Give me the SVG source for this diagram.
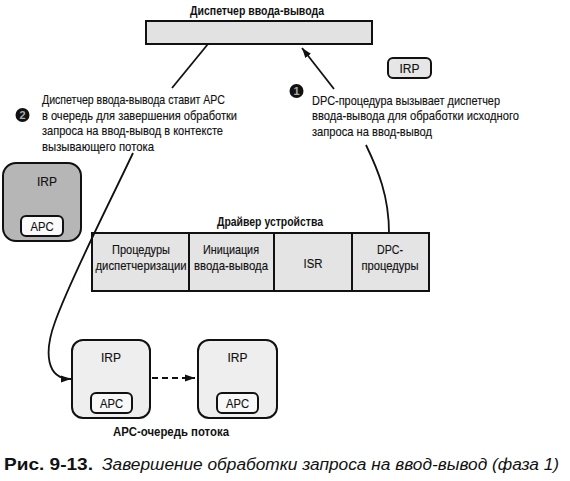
<svg xmlns="http://www.w3.org/2000/svg" width="570" height="481" viewBox="0 0 570 481">
<defs>
<marker id="ah" markerUnits="userSpaceOnUse" markerWidth="11" markerHeight="8" refX="10" refY="4" orient="auto">
<path d="M0,0.5 L10,4 L0,7.5 Z" fill="#111"/>
</marker>
</defs>
<style>
text{font-family:"Liberation Sans",Arial,sans-serif;fill:#111}
.t{font-size:13px;stroke:#111;stroke-width:0.15}
.b{font-size:13px;font-weight:bold}
.lbl{font-size:13px;text-anchor:middle;stroke:#111;stroke-width:0.15}
.box{stroke:#111;stroke-width:2}
.ln{fill:none;stroke:#111;stroke-width:1.8}
.num{font-size:11px;font-weight:bold;fill:#aaa;text-anchor:middle}
</style>
<rect width="570" height="481" fill="#fff"/>

<g id="io-manager">
<text class="b" x="257" y="14.5" text-anchor="middle" textLength="134" lengthAdjust="spacingAndGlyphs">Диспетчер ввода-вывода</text>
<rect class="box" x="146" y="21" width="226" height="23" fill="#e2e2e2"/>
</g>

<g id="irp-small">
<rect class="box" x="388" y="58" width="43" height="20" rx="5" fill="#e6e6e6"/>
<text class="lbl" x="409.5" y="72.5" textLength="20" lengthAdjust="spacingAndGlyphs">IRP</text>
</g>

<g id="note1">
<circle cx="296.5" cy="91" r="7" fill="#111"/>
<text class="num" x="296.5" y="95">1</text>
<text class="t" x="312" y="104.5" textLength="188" lengthAdjust="spacingAndGlyphs">DPC-процедура вызывает диспетчер</text>
<text class="t" x="312" y="120" textLength="207" lengthAdjust="spacingAndGlyphs">ввода-вывода для обработки исходного</text>
<text class="t" x="312" y="135.5" textLength="120" lengthAdjust="spacingAndGlyphs">запроса на ввод-вывод</text>
</g>

<g id="note2">
<circle cx="22.5" cy="115" r="7" fill="#111"/>
<text class="num" x="22.5" y="119">2</text>
<text class="t" x="42" y="103.5" textLength="183" lengthAdjust="spacingAndGlyphs">Диспетчер ввода-вывода ставит APC</text>
<text class="t" x="42" y="119.5" textLength="195" lengthAdjust="spacingAndGlyphs">в очередь для завершения обработки</text>
<text class="t" x="42" y="135" textLength="181" lengthAdjust="spacingAndGlyphs">запроса на ввод-вывод в контексте</text>
<text class="t" x="42" y="150.5" textLength="112" lengthAdjust="spacingAndGlyphs">вызывающего потока</text>
</g>

<g id="irp-apc-left">
<rect class="box" x="3" y="163" width="78" height="78" rx="13" fill="#b6b6b6"/>
<text class="lbl" x="47" y="186" textLength="20" lengthAdjust="spacingAndGlyphs">IRP</text>
<rect class="box" x="21" y="216" width="42" height="20" rx="5" fill="#fafafa"/>
<text class="lbl" x="42" y="231" textLength="23" lengthAdjust="spacingAndGlyphs">APC</text>
</g>

<g id="device-driver">
<text class="b" x="270" y="226" text-anchor="middle" textLength="106" lengthAdjust="spacingAndGlyphs">Драйвер устройства</text>
<rect class="box" x="92" y="233" width="337" height="58" fill="#e4e4e4"/>
<line class="box" x1="189" y1="233" x2="189" y2="291"/>
<line class="box" x1="274" y1="233" x2="274" y2="291"/>
<line class="box" x1="352" y1="233" x2="352" y2="291"/>
<text class="lbl" x="141" y="253.5" textLength="58" lengthAdjust="spacingAndGlyphs">Процедуры</text>
<text class="lbl" x="141" y="269.5" textLength="91" lengthAdjust="spacingAndGlyphs">диспетчеризации</text>
<text class="lbl" x="231" y="253.5" textLength="56" lengthAdjust="spacingAndGlyphs">Инициация</text>
<text class="lbl" x="231" y="269.5" textLength="74" lengthAdjust="spacingAndGlyphs">ввода-вывода</text>
<text class="lbl" x="313" y="268" textLength="19" lengthAdjust="spacingAndGlyphs">ISR</text>
<text class="lbl" x="390" y="253.5" textLength="26" lengthAdjust="spacingAndGlyphs">DPC-</text>
<text class="lbl" x="390" y="269.5" textLength="57" lengthAdjust="spacingAndGlyphs">процедуры</text>
</g>

<g id="irp-queue-1">
<rect class="box" x="72" y="340" width="78" height="78" rx="11" fill="#eeeeee"/>
<text class="lbl" x="111" y="361.5" textLength="20" lengthAdjust="spacingAndGlyphs">IRP</text>
<rect class="box" x="91" y="393" width="41" height="20" rx="5" fill="#f8f8f8"/>
<text class="lbl" x="111.5" y="408" textLength="23" lengthAdjust="spacingAndGlyphs">APC</text>
</g>

<g id="irp-queue-2">
<rect class="box" x="198" y="340" width="79" height="78" rx="11" fill="#eeeeee"/>
<text class="lbl" x="237.5" y="361.5" textLength="20" lengthAdjust="spacingAndGlyphs">IRP</text>
<rect class="box" x="217" y="393" width="41" height="20" rx="5" fill="#f8f8f8"/>
<text class="lbl" x="237.5" y="408" textLength="23" lengthAdjust="spacingAndGlyphs">APC</text>
</g>

<g id="queue-label">
<text class="b" x="171" y="436" text-anchor="middle" textLength="116" lengthAdjust="spacingAndGlyphs">APC-очередь потока</text>
</g>

<g id="connectors">
<path class="ln" d="M389,233 C389,196 378,170 366,145"/>
<path class="ln" d="M334,89 L302,48" marker-end="url(#ah)"/>
<path class="ln" d="M208,44 L172,88"/>
<path class="ln" d="M133,153 C105,212 70,280 55,322 C44,352 46,379 71,379" marker-end="url(#ah)"/>
<path class="ln" d="M152,378 L195,378" stroke-dasharray="6,4" marker-end="url(#ah)"/>
</g>

<g id="caption">
<text x="4" y="470" style="font-size:16.5px;font-weight:bold" textLength="89" lengthAdjust="spacingAndGlyphs">Рис. 9-13.</text>
<text x="102" y="470" style="font-size:16px;font-style:italic" textLength="457" lengthAdjust="spacingAndGlyphs">Завершение обработки запроса на ввод-вывод (фаза 1)</text>
</g>
</svg>
